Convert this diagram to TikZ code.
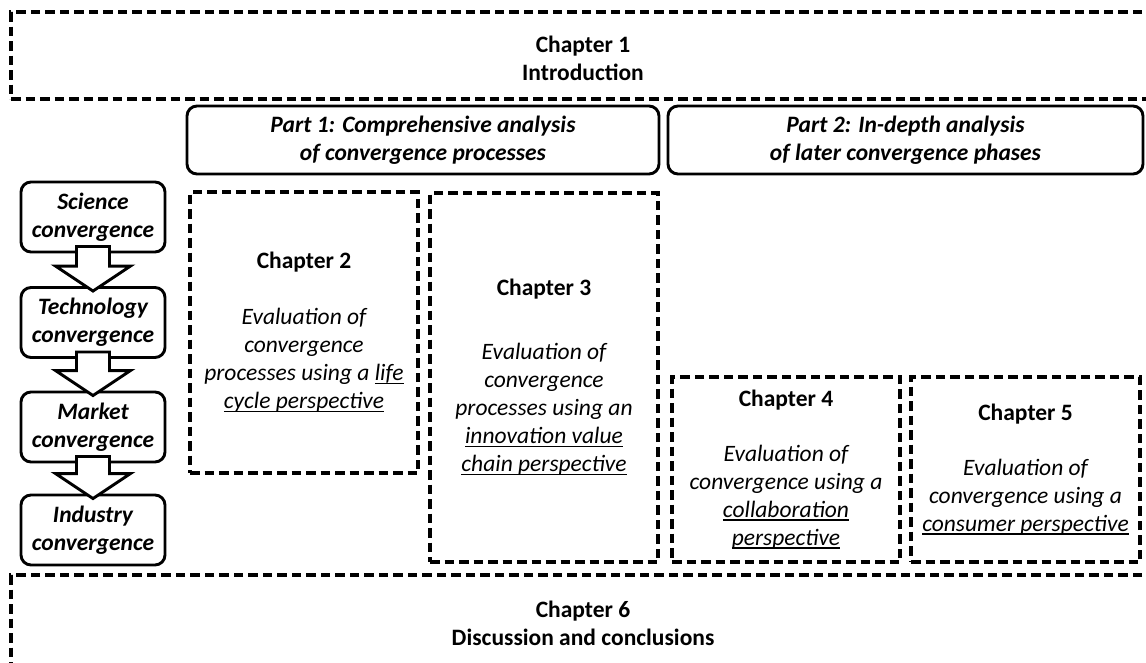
\documentclass[tikz,border=0pt]{standalone}
\usepackage{fontspec}
\setmainfont{Carlito}
\usetikzlibrary{calc}
% underline at a fixed depth below the baseline
\newcommand{\ulthin}[1]{\setbox0\hbox{#1}\rlap{\rule[-3.6pt]{\wd0}{1.7pt}}\box0}
\begin{document}
\begin{tikzpicture}[x=1pt,y=-1pt,
  every node/.style={font=\fontsize{23.5}{28}\selectfont, align=center, inner sep=0pt},
  dashbox/.style={draw, line width=3.4pt, dash pattern=on 9.5pt off 5pt},
  partbox/.style={draw, line width=2.9pt, rounded corners=10pt, font=\fontsize{23.5}{28}\selectfont\bfseries\itshape},
  phasebox/.style={draw, line width=2.9pt, rounded corners=10pt, minimum width=144pt, minimum height=70pt, font=\fontsize{23.5}{28}\selectfont\bfseries\itshape},
  blockarr/.style={draw, fill=white, line width=2.9pt, line join=miter},
  chap/.style={font=\fontsize{23.5}{28}\selectfont\bfseries}
]
\clip (0,0) rectangle (1146,662);
\fill[white] (0,0) rectangle (1146,662);

% chapter 1 and chapter 6 frames
\node[dashbox, minimum width=1189pt, minimum height=87pt] (intro) at (605.5,55.5) {};
\node[chap] (introtext) at (583,58) {Chapter 1\\Introduction};
\node[dashbox, minimum width=1189pt, minimum height=145pt] (concl) at (605.5,647.5) {};
\node[chap] (concltext) at (583,623) {Chapter 6\\Discussion and conclusions};

% part headers
\node[partbox, minimum width=472pt, minimum height=68pt] (part1) at (423,140) {Part 1: Comprehensive analysis\\of convergence processes};
\node[partbox, minimum width=475pt, minimum height=68pt] (part2) at (905.5,140) {Part 2: In-depth analysis\\of later convergence phases};

% chapter boxes
\node[dashbox, minimum width=228pt, minimum height=281pt] (ch2) at (304,332.5)
  {\textbf{Chapter 2}\\[28pt]\itshape Evaluation of\\\itshape convergence\\\itshape processes using a \ulthin{life}\\\itshape \ulthin{cycle perspective}};
\node[dashbox, minimum width=228pt, minimum height=369pt] (ch3) at (544,377.5)
  {\textbf{Chapter 3}\\[36pt]\itshape Evaluation of\\\itshape convergence\\\itshape processes using an\\\itshape \ulthin{innovation value}\\\itshape \ulthin{chain perspective}};
\node[dashbox, minimum width=228pt, minimum height=185pt] (ch4) at (786,469.5)
  {\textbf{Chapter 4}\\[27pt]\itshape Evaluation of\\\itshape convergence using a\\\itshape \ulthin{collaboration}\\\itshape \ulthin{perspective}};
\node[dashbox, minimum width=229pt, minimum height=185pt] (ch5) at (1025.5,469.5)
  {\textbf{Chapter 5}\\[27pt]\itshape Evaluation of\\\itshape convergence using a\\\itshape \ulthin{consumer perspective}};

% convergence phases
\node[phasebox] (sci) at (93,217) {Science\\convergence};
\node[phasebox] (tech) at (93,322.5) {Technology\\convergence};
\node[phasebox] (mkt) at (93,427) {Market\\convergence};
\node[phasebox] (ind) at (93,530) {Industry\\convergence};

% block arrows between phases
\foreach \a/\b in {sci/tech, tech/mkt, mkt/ind}{
  \draw[blockarr] ($(\a.south)+(-16.5,-7)$) -- ($(\b.north)+(-16.5,-20)$)
    -- ($(\b.north)+(-37.5,-20)$) -- ($(\b.north)+(0,5)$)
    -- ($(\b.north)+(37.5,-20)$) -- ($(\b.north)+(16.5,-20)$)
    -- ($(\a.south)+(16.5,-7)$) -- cycle;
}
\end{tikzpicture}
\end{document}
